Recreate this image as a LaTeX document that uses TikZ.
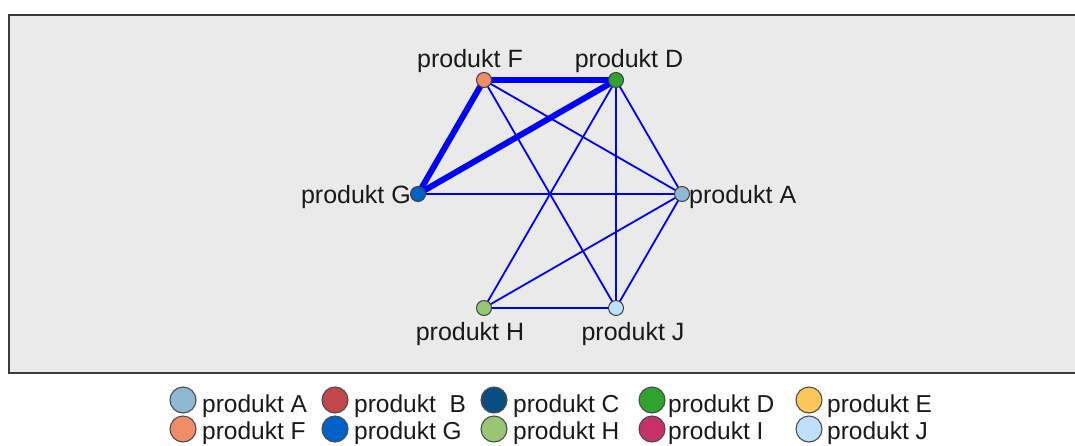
\documentclass[tikz,border=0pt]{standalone}
\usepackage{fontspec}
\setmainfont{Liberation Sans}
\pgfdeclarelayer{panel}
\pgfdeclarelayer{links}
\pgfsetlayers{panel,links,main}
\definecolor{panelfill}{HTML}{EAEAEA}
\definecolor{panelline}{HTML}{3C3C3C}
\definecolor{linkblue}{HTML}{0000FF}
\definecolor{cA}{HTML}{8DB9D3}
\definecolor{cB}{HTML}{C2474D}
\definecolor{cC}{HTML}{0B4F82}
\definecolor{cD}{HTML}{30A22E}
\definecolor{cE}{HTML}{FFC75A}
\definecolor{cF}{HTML}{F08C66}
\definecolor{cG}{HTML}{0062C8}
\definecolor{cH}{HTML}{98C675}
\definecolor{cI}{HTML}{C8306A}
\definecolor{cJ}{HTML}{BEE0F8}
\begin{document}
\begin{tikzpicture}[x=1pt,y=-1pt,
  font=\fontsize{25}{29}\selectfont,
  vertex/.style={circle, draw=black!75, line width=1pt, minimum size=15pt, inner sep=0pt},
  keydot/.style={circle, draw=black!70, line width=1.1pt, minimum size=26pt, inner sep=0pt},
  thinlink/.style={draw=linkblue, line width=1.8pt},
  thicklink/.style={draw=linkblue, line width=6pt},
  lbl/.style={inner sep=0pt, text=black!90},
  keytext/.style={lbl, anchor=base west, font=\fontsize{24.5}{28}\selectfont}]
\useasboundingbox (0,0) rectangle (1075,445);

% panel
\begin{pgfonlayer}{panel}
  \path[fill=panelfill, draw=panelline, line width=2.5pt] (9,15) rectangle (1090,373);
\end{pgfonlayer}

% vertices
\node[vertex, fill=cF] (F) at (484,80) {};
\node[vertex, fill=cD] (D) at (616,80) {};
\node[vertex, fill=cG] (G) at (418,194) {};
\node[vertex, fill=cA] (A) at (682,194) {};
\node[vertex, fill=cH] (H) at (484,308) {};
\node[vertex, fill=cJ] (J) at (616,308) {};

% vertex labels
\node[lbl, anchor=base] (lF) at (470,67) {produkt F};
\node[lbl, anchor=base] (lD) at (629,67) {produkt D};
\node[lbl, anchor=base east] (lG) at (411,203) {produkt G};
\node[lbl, anchor=base west] (lA) at (689,203) {produkt A};
\node[lbl, anchor=base] (lH) at (470,340) {produkt H};
\node[lbl, anchor=base] (lJ) at (633,340) {produkt J};

% links
\begin{pgfonlayer}{links}
  \draw[thicklink] (F.center) -- (D.center);
  \draw[thicklink] (F.center) -- (G.center);
  \draw[thicklink] (G.center) -- (D.center);
  \draw[thinlink] (F.center) -- (A.center);
  \draw[thinlink] (F.center) -- (J.center);
  \draw[thinlink] (D.center) -- (H.center);
  \draw[thinlink] (D.center) -- (J.center);
  \draw[thinlink] (D.center) -- (A.center);
  \draw[thinlink] (G.center) -- (A.center);
  \draw[thinlink] (H.center) -- (A.center);
  \draw[thinlink] (H.center) -- (J.center);
  \draw[thinlink] (J.center) -- (A.center);
\end{pgfonlayer}

% legend
\node[keydot, fill=cA] (kA) at (183,400) {};
\node[keytext] (tA) at (202,412) {produkt A};
\node[keydot, fill=cB] (kB) at (335,400) {};
\node[keytext] (tB) at (354,412) {produkt\ \ B};
\node[keydot, fill=cC] (kC) at (494,400) {};
\node[keytext] (tC) at (513,412) {produkt C};
\node[keydot, fill=cD] (kD) at (652,400) {};
\node[keytext] (tD) at (668,412) {produkt D};
\node[keydot, fill=cE] (kE) at (809,400) {};
\node[keytext] (tE) at (827,412) {produkt E};

\node[keydot, fill=cF] (kF) at (183,429) {};
\node[keytext] (tF) at (202,439) {produkt F};
\node[keydot, fill=cG] (kG) at (335,429) {};
\node[keytext] (tG) at (354,439) {produkt G};
\node[keydot, fill=cH] (kH) at (494,429) {};
\node[keytext] (tH) at (513,439) {produkt H};
\node[keydot, fill=cI] (kI) at (652,429) {};
\node[keytext] (tI) at (668,439) {produkt I};
\node[keydot, fill=cJ] (kJ) at (809,429) {};
\node[keytext] (tJ) at (827,439) {produkt J};
\end{tikzpicture}
\end{document}
